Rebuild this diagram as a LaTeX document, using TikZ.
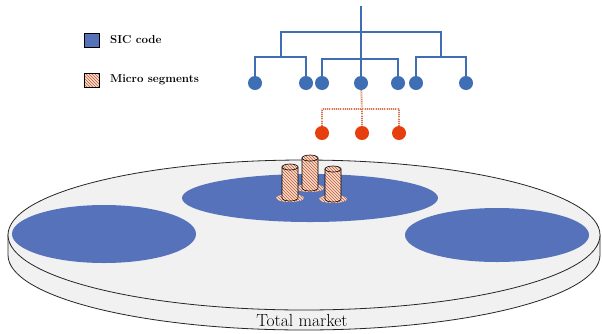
\documentclass[tikz,border=0pt]{standalone}
\usetikzlibrary{positioning,patterns}

\definecolor{sicblue}{RGB}{86,114,186}
\definecolor{treeblue}{RGB}{62,110,180}
\definecolor{segred}{RGB}{230,62,14}
\definecolor{hatchtan}{RGB}{244,222,204}
\definecolor{hatchred}{RGB}{196,86,52}
\definecolor{diskgrey}{RGB}{241,241,241}

\tikzset{
	tree/.style={draw=treeblue,line width=2.6pt},
	leaf/.style={shape=circle,fill=treeblue,inner sep=0pt,minimum size=14pt},
	seg/.style={shape=circle,fill=segred,inner sep=0pt,minimum size=14pt},
	hatchline/.style={draw=hatchtan,line width=2.6pt,
		postaction={draw=hatchred!80,line width=1.2pt,dash pattern=on 0.8pt off 1.4pt}},
	hatched/.style={preaction={fill=hatchtan},pattern=north west lines,pattern color=hatchred},
	legbox/.style={shape=rectangle,draw=black,line width=0.8pt,minimum width=15pt,minimum height=14pt},
	legtext/.style={font=\fontsize{11.5}{13}\selectfont\bfseries,inner sep=0pt},
	disk/.style={draw=black!85,line width=0.8pt,fill=diskgrey}
}

\begin{document}
\begin{tikzpicture}[x=1pt,y=-1pt]
	\useasboundingbox (0,0) rectangle (602,333);

	% legend
	\node[legbox,fill=sicblue] (sic) at (92,40) {};
	\node[legbox,hatched] (micro) at (92,80) {};
	\node[legtext,right=10pt of sic] (sictext) {SIC code};
	\node[legtext,right=10pt of micro] (microtext) {Micro segments};

	% SIC code tree
	\coordinate (top) at (361,6);
	\node[leaf] (l1) at (255,83) {};
	\node[leaf] (l2) at (306,83) {};
	\node[leaf] (l3) at (322,83) {};
	\node[leaf] (l4) at (361,83) {};
	\node[leaf] (l5) at (398,83) {};
	\node[leaf] (l6) at (416,83) {};
	\node[leaf] (l7) at (466,83) {};
	\coordinate (a) at (281,57);
	\coordinate (b) at (361,59);
	\coordinate (c) at (441,57);
	\coordinate (al) at (281,32);
	\coordinate (cr) at (441,32);

	\draw[tree] (top) -- (l4);
	\draw[tree] (a) -- (al) -- (cr) -- (c);
	\draw[tree] (l1) |- (a) -| (l2);
	\draw[tree] (l3) |- (b) -| (l5);
	\draw[tree] (l6) |- (c) -| (l7);

	% micro segments below one code
	\node[seg] (r1) at (322,133) {};
	\node[seg] (r2) at (362,133) {};
	\node[seg] (r3) at (399,133) {};
	\coordinate (m) at (362,109);
	\draw[hatchline] (l4) -- (m);
	\draw[hatchline] (r1) |- (m) -| (r3);
	\draw[hatchline] (m) -- (r2);

	% total market disk
	\draw[disk] (8,235) -- (8,255) arc[start angle=180,end angle=0,x radius=296,y radius=75] -- (600,235) -- cycle;
	\draw[disk] (304,235) ellipse[x radius=296,y radius=75];
	\node[font=\fontsize{17.5}{20}\selectfont] (total) at (302,320) {Total market};

	% SIC code areas
	\fill[sicblue] (310,198) ellipse[x radius=128,y radius=24];
	\fill[sicblue] (104,234) ellipse[x radius=92,y radius=29];
	\fill[sicblue] (497,235) ellipse[x radius=92,y radius=27];

	% micro segment cylinders
	\foreach \cx/\ct/\cb in {310/158/188,290/167/198,333/169/199}{
		\fill[hatched] (\cx,\cb) ellipse[x radius=14,y radius=4];
		\draw[hatched,draw=black,line width=0.6pt] (\cx-8,\ct) -- (\cx-8,\cb)
			arc[start angle=180,end angle=0,x radius=8,y radius=3] -- (\cx+8,\ct) -- cycle;
		\draw[hatched,draw=black,line width=0.6pt] (\cx,\ct) ellipse[x radius=8,y radius=3];
	}
\end{tikzpicture}
\end{document}
